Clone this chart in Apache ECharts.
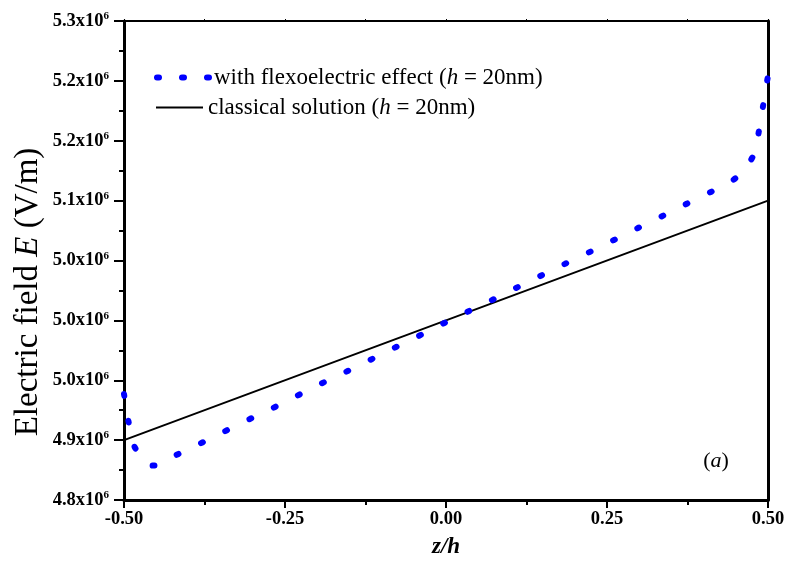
<!DOCTYPE html>
<html>
<head>
<meta charset="utf-8">
<script src="https://cdn.jsdelivr.net/npm/echarts@6/dist/echarts.min.js"></script>
<style>
  html, body { margin: 0; padding: 0; background: #fff; }
  #chart { width: 787px; height: 561px; }
</style>
</head>
<body>
<div id="chart"></div>
<script>
// Electric field E through the normalized thickness z/h of a 20 nm layer (values in 10^6 V/m)
const zFlexo = [-0.5, -0.4932, -0.4849, -0.4637, -0.4539, -0.4255, -0.3871, -0.3488, -0.3110,
  -0.2727, -0.2349, -0.1972, -0.1588, -0.1211, -0.0828, -0.0444, -0.0067, 0.0317, 0.0694,
  0.1078, 0.1455, 0.1832, 0.2220, 0.2599, 0.2980, 0.3360, 0.3738, 0.4121, 0.4503, 0.4778,
  0.4860, 0.4922, 0.4984, 0.5];
const eFlexo = [4.9106, 4.8828, 4.8574, 4.8373, 4.8359, 4.8449, 4.8571, 4.8699, 4.8825,
  4.8947, 4.9075, 4.9204, 4.9326, 4.9451, 4.9579, 4.9705, 4.9834, 4.9959, 5.0080,
  5.0210, 5.0335, 5.0460, 5.0585, 5.0711, 5.0839, 5.0964, 5.1092, 5.1218, 5.1363, 5.1601,
  5.1855, 5.2109, 5.2366, 5.2426];

const zClassical = [-0.5, 0.5];
const eClassical = [4.8625, 5.1125];

const xTickLabels = ['-0.50', '-0.25', '0.00', '0.25', '0.50'];
const yTickLabels = ['4.8', '4.9', '5.0', '5.0', '5.0', '5.1', '5.2', '5.2', '5.3'];
const seriesNames = ['with flexoelectric effect (h = 20nm)', 'classical solution (h = 20nm)'];

const FONT = 'Liberation Serif';
const BLUE = '#0000ff';
const pairs = (xs, ys) => xs.map((x, i) => [x, ys[i]]);
const italicH = name => name.replace('(h', '({i|h}');

const legendText = {
  fontFamily: FONT, fontSize: 23, color: '#000',
  rich: { i: { fontFamily: FONT, fontSize: 23, fontStyle: 'italic', color: '#000' } }
};
const dotStyle = { color: BLUE, width: 6, type: [2, 25], cap: 'round' };

const chart = echarts.init(document.getElementById('chart'), null, { renderer: 'canvas' });
chart.setOption({
  animation: false,
  backgroundColor: '#fff',
  grid: { left: 124, right: 19, top: 21, bottom: 61, containLabel: false, outerBoundsMode: 'none' },
  legend: [
    {
      data: [seriesNames[0]], left: 154, top: 66, padding: 0, orient: 'vertical',
      itemWidth: 52, itemHeight: 14, textStyle: legendText, formatter: italicH,
      itemStyle: { opacity: 0 },
      lineStyle: { color: BLUE, width: 6, type: [2, 23], cap: 'round' }
    },
    {
      data: [seriesNames[1]], left: 155, top: 96, padding: 0, orient: 'vertical',
      itemWidth: 47, itemHeight: 14, textStyle: legendText, formatter: italicH,
      itemStyle: { opacity: 0 }, lineStyle: { color: '#000', width: 2 }
    }
  ],
  xAxis: [
    {
      type: 'value', position: 'bottom', min: -0.5, max: 0.5, interval: 0.25,
      axisLine: { onZero: false, lineStyle: { color: '#000', width: 3 } },
      axisTick: { length: 8, lineStyle: { color: '#000', width: 2 } },
      minorTick: { show: true, splitNumber: 2, length: 5, lineStyle: { color: '#000', width: 2 } },
      splitLine: { show: false },
      axisLabel: {
        margin: 10, color: '#000', fontFamily: FONT, fontSize: 18.5, fontWeight: 'bold',
        formatter: (v, i) => xTickLabels[i]
      },
      name: 'z/h', nameLocation: 'middle', nameGap: 36,
      nameTextStyle: { fontFamily: FONT, fontSize: 23, fontStyle: 'italic', fontWeight: 'bold', color: '#000' }
    },
    {
      type: 'value', position: 'top', min: -0.5, max: 0.5, interval: 0.25,
      axisLine: { onZero: false, lineStyle: { color: '#000', width: 2 } },
      axisTick: { length: 2, lineStyle: { color: '#000', width: 1 } },
      minorTick: { show: true, splitNumber: 2, length: 2, lineStyle: { color: '#000', width: 1 } },
      splitLine: { show: false },
      axisLabel: { show: false }
    }
  ],
  yAxis: [
    {
      type: 'value', position: 'left', min: 4.8, max: 5.3, interval: 0.0625,
      axisLine: { onZero: false, lineStyle: { color: '#000', width: 3 } },
      axisTick: { length: 10, lineStyle: { color: '#000', width: 2 } },
      minorTick: { show: true, splitNumber: 2, length: 5, lineStyle: { color: '#000', width: 2 } },
      splitLine: { show: false },
      axisLabel: {
        margin: 15,
        formatter: (v, i) => '{b|' + yTickLabels[i] + 'x10}{s|6}',
        rich: {
          b: { fontFamily: FONT, fontSize: 18.5, fontWeight: 'bold', color: '#000', lineHeight: 20 },
          s: { fontFamily: FONT, fontSize: 11, fontWeight: 'bold', color: '#000', verticalAlign: 'top' }
        }
      }
    },
    {
      type: 'value', position: 'right', min: 4.8, max: 5.3, interval: 0.0625,
      axisLine: { onZero: false, lineStyle: { color: '#000', width: 3 } },
      axisTick: { show: false },
      splitLine: { show: false },
      axisLabel: { show: false }
    }
  ],
  series: [
    {
      type: 'line', name: seriesNames[1], data: pairs(zClassical, eClassical),
      symbol: 'none', showSymbol: false, z: 1,
      lineStyle: { color: '#000', width: 2 }, itemStyle: { color: '#000' }
    },
    {
      type: 'line', name: seriesNames[0], data: pairs(zFlexo, eFlexo),
      symbol: 'none', showSymbol: false, smooth: 0.3, z: 2,
      lineStyle: dotStyle,
      itemStyle: { color: BLUE }
    }
  ],
  graphic: [
    {
      type: 'text', x: 28, y: 292, rotation: Math.PI / 2,
      style: {
        text: 'Electric field {i|E} (V/m)', fontFamily: FONT, fontSize: 33, fill: '#000',
        align: 'center', verticalAlign: 'middle',
        rich: { i: { fontFamily: FONT, fontSize: 33, fontStyle: 'italic', fill: '#000' } }
      }
    },
    {
      type: 'text', x: 716, y: 461,
      style: {
        text: '({i|a})', fontFamily: FONT, fontSize: 22, fill: '#000',
        align: 'center', verticalAlign: 'middle',
        rich: { i: { fontFamily: FONT, fontSize: 22, fontStyle: 'italic', fill: '#000' } }
      }
    }
  ]
});
</script>
</body>
</html>
